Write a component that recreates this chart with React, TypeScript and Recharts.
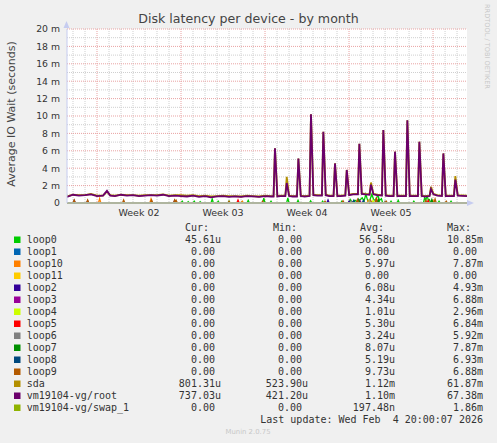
import React from "react";
import { LineChart, Line, XAxis, YAxis, CartesianGrid } from "recharts";

// ---- time axis (days from left edge of graph), values in milliseconds (m) ----
const X_END = 33.33;
const weekTicks = [6, 13, 20, 27];
const weekLabels = ["Week 02", "Week 03", "Week 04", "Week 05"];
const weekStarts = [2.5, 9.5, 16.5, 23.5, 30.5];
const yMajor = [2, 4, 6, 8, 10, 12, 14, 16, 18, 20];
const yMinor = [1, 3, 5, 7, 9, 11, 13, 15, 17, 19];
const yTicks = [0, 2, 4, 6, 8, 10, 12, 14, 16, 18, 20];

// sda / root share sample days
const mainDays = [
  0, 0.5, 1, 1.5, 2, 2.5, 3, 3.33, 3.6, 4, 4.5, 5, 5.5, 6, 6.5, 7, 7.5, 8, 8.5, 9,
  9.5, 10, 10.5, 11, 11.5, 12, 12.5, 13, 13.5, 14, 14.5, 15, 15.5, 16, 16.5, 17,
  17.21, 17.33, 17.53, 17.8,
  18.19, 18.31, 18.51, 18.8,
  19.16, 19.28, 19.48, 19.8,
  20.21, 20.33, 20.53, 20.85,
  21.24, 21.36, 21.56, 21.85,
  22.21, 22.33, 22.53, 22.8,
  23.19, 23.31, 23.51, 23.85,
  24.24, 24.36, 24.56, 24.85,
  25.21, 25.33, 25.53, 25.85,
  26.24, 26.36, 26.56, 26.85,
  27.21, 27.33, 27.53, 27.85,
  28.24, 28.36, 28.56, 28.85,
  29.24, 29.36, 29.56, 29.85,
  30.21, 30.33, 30.53, 30.85,
  31.24, 31.36, 31.56, 31.85,
  32.24, 32.36, 32.56, 33.33,
];
const rootVals = [
  0.7, 0.95, 0.85, 0.9, 1.0, 0.8, 0.85, 1.4, 0.85, 0.8, 0.95, 0.85, 0.9, 0.8, 0.85, 0.9, 0.85, 0.95, 0.8, 0.85,
  0.8, 0.75, 0.85, 0.7, 0.8, 0.65, 0.75, 0.8, 0.7, 0.75, 0.7, 0.8, 0.75, 0.7, 0.8, 0.75,
  0.75, 6.3, 0.75, 0.8,
  0.8, 2.3, 0.8, 0.75,
  0.75, 5.1, 0.8, 0.75,
  0.8, 10.2, 0.9, 0.85,
  0.85, 8.2, 0.9, 0.8,
  0.8, 4.55, 0.8, 0.8,
  0.85, 3.8, 0.9, 1.0,
  1.0, 6.8, 1.05, 1.0,
  0.95, 2.1, 1.0, 0.9,
  0.85, 8.4, 0.85, 0.8,
  0.8, 5.9, 0.8, 0.8,
  0.8, 9.5, 0.8, 0.8,
  0.8, 7.05, 0.8, 0.75,
  0.8, 1.6, 1.0, 0.85,
  0.8, 5.7, 0.8, 0.8,
  0.8, 2.7, 0.85, 0.8,
];
const sdaVals = [
  0.75, 0.95, 0.9, 0.9, 1.05, 0.85, 0.85, 1.3, 0.9, 0.85, 0.95, 0.9, 0.9, 0.85, 0.9, 0.9, 0.9, 1.0, 0.85, 0.9,
  0.9, 0.85, 0.9, 0.8, 0.85, 0.75, 0.8, 0.85, 0.8, 0.8, 0.75, 0.85, 0.8, 0.75, 0.85, 0.8,
  0.8, 6.3, 0.8, 0.85,
  0.85, 3.0, 0.85, 0.8,
  0.8, 5.1, 0.85, 0.8,
  0.85, 10.2, 0.95, 0.9,
  0.9, 8.2, 0.95, 0.85,
  0.85, 4.55, 0.85, 0.85,
  0.9, 3.8, 0.95, 1.05,
  1.05, 6.8, 1.1, 1.05,
  1.0, 2.35, 1.05, 0.95,
  0.9, 8.4, 0.9, 0.85,
  0.85, 5.9, 0.85, 0.85,
  0.85, 9.5, 0.85, 0.85,
  0.85, 7.05, 0.85, 0.8,
  0.85, 1.85, 1.05, 0.9,
  0.85, 5.7, 0.85, 0.85,
  0.85, 3.1, 0.9, 0.85,
];

// loop devices: [day, value] samples
const loop0Pts = [
  [0, 0], [9.5, 0], [9.6, 0.2], [9.7, 0], [10.0, 0], [10.1, 0.15], [10.2, 0], [10.5, 0], [10.6, 0.2], [10.7, 0],
  [11.0, 0], [11.1, 0.15], [11.2, 0], [12.0, 0], [12.1, 0.45], [12.2, 0], [12.5, 0], [12.6, 0.2], [12.7, 0],
  [13.4, 0], [13.5, 0.2], [13.6, 0], [14.5, 0], [14.6, 0.15], [14.7, 0], [15.0, 0], [15.1, 0.3], [15.2, 0],
  [16.3, 0], [16.4, 0.55], [16.5, 0], [16.9, 0], [17.0, 0.2], [17.1, 0], [18.3, 0], [18.4, 0.6], [18.5, 0],
  [19.15, 0], [19.25, 0.3], [19.35, 0], [20.2, 0], [20.3, 0.25], [20.4, 0], [21.2, 0], [21.3, 0.2], [21.4, 0],
  [22.8, 0], [22.9, 0.2], [23.0, 0], [23.5, 0], [23.6, 0.4], [23.75, 0.1], [24.0, 0.3], [24.2, 0.1], [24.6, 0.6],
  [24.75, 0.2], [24.9, 1.0], [25.05, 0.3], [25.2, 0.2], [25.4, 1.0], [25.55, 0.4], [25.7, 0.3], [25.9, 0.9],
  [26.05, 0.3], [26.2, 0.5], [26.3, 0], [26.9, 0], [27.0, 0.2], [27.1, 0], [27.5, 0], [27.6, 0.3], [27.7, 0],
  [28.8, 0], [28.9, 0.2], [29.0, 0], [29.7, 0], [29.8, 0.6], [29.9, 0.3], [30.0, 0.9], [30.1, 0.35], [30.2, 0.4],
  [30.3, 0], [30.9, 0], [31.0, 0.2], [31.1, 0], [31.9, 0], [32.0, 0.2], [32.1, 0], [33.33, 0],
];
const loop1Pts = [[0, 0], [33.33, 0]];
const loop10Pts = [
  [0, 0], [2.62, 0], [2.72, 0.5], [2.82, 0], [6.9, 0], [7.0, 0.45], [7.1, 0], [14.5, 0], [14.6, 0.2], [14.7, 0],
  [25.0, 0], [25.1, 0.3], [25.2, 0], [30.4, 0], [30.5, 0.3], [30.6, 0], [33.33, 0],
];
const loop11Pts = [[0, 0], [33.33, 0]];
const loop2Pts = [
  [0, 0], [0.5, 0], [0.6, 0.3], [0.7, 0], [1.62, 0], [1.72, 0.25], [1.82, 0], [8.87, 0], [8.97, 0.3], [9.07, 0],
  [21.65, 0], [21.75, 0.35], [21.85, 0], [23.4, 0], [23.5, 0.2], [23.6, 0], [33.33, 0],
];
const loop3Pts = [[0, 0], [24.3, 0], [24.4, 0.3], [24.5, 0], [33.33, 0]];
const loop4Pts = [[0, 0], [25.4, 0], [25.5, 0.3], [25.6, 0], [33.33, 0]];
const loop5Pts = [
  [0, 0], [14.15, 0], [14.25, 0.35], [14.35, 0], [25.7, 0], [25.8, 0.45], [25.9, 0], [30.0, 0], [30.1, 0.3],
  [30.2, 0], [33.33, 0],
];
const loop6Pts = [[0, 0], [23.6, 0], [23.7, 0.25], [23.8, 0], [26.4, 0], [26.5, 0.2], [26.6, 0], [33.33, 0]];
const loop7Pts = [
  [0, 0], [24.2, 0], [24.3, 0.4], [24.4, 0], [25.85, 0], [25.95, 0.4], [26.05, 0], [30.3, 0], [30.4, 0.4],
  [30.5, 0], [33.33, 0],
];
const loop8Pts = [[0, 0], [23.8, 0], [23.9, 0.3], [24.0, 0], [24.6, 0], [24.7, 0.3], [24.8, 0], [33.33, 0]];
const loop9Pts = [
  [0, 0], [0.5, 0], [0.6, 0.35], [0.7, 0], [1.62, 0], [1.72, 0.35], [1.82, 0], [4.62, 0], [4.72, 0.35], [4.82, 0],
  [6.95, 0], [7.05, 0.35], [7.15, 0], [8.87, 0], [8.97, 0.35], [9.05, 0.1], [9.1, 0.3], [9.2, 0],
  [13.4, 0], [13.5, 0.2], [13.6, 0], [16.2, 0], [16.3, 0.2], [16.4, 0], [21.4, 0], [21.5, 0.2], [21.6, 0],
  [22.9, 0], [23.0, 0.25], [23.1, 0], [24.1, 0], [24.2, 0.4], [24.3, 0], [25.2, 0], [25.3, 0.3], [25.4, 0],
  [25.65, 0], [25.75, 0.45], [25.85, 0], [26.5, 0], [26.6, 0.2], [26.7, 0], [29.8, 0], [29.9, 0.3], [30.0, 0],
  [30.57, 0], [30.67, 0.45], [30.77, 0], [31.5, 0], [31.6, 0.2], [31.7, 0], [33.33, 0],
];
const swapPts = [[0, 0], [25.1, 0], [25.2, 0.3], [25.3, 0], [33.33, 0]];

// legend
const legendNames = [
  "loop0", "loop1", "loop10", "loop11", "loop2", "loop3", "loop4", "loop5", "loop6", "loop7", "loop8", "loop9",
  "sda", "vm19104-vg/root", "vm19104-vg/swap_1",
];
const legendColors = [
  "#00CC00", "#0066B3", "#FF8000", "#FFCC00", "#330099", "#990099", "#CCFF00", "#FF0000", "#808080", "#008F00",
  "#00487D", "#B35A00", "#B38F00", "#6B006B", "#8FB300",
];
const curVals = ["45.61u", "0.00", "0.00", "0.00", "0.00", "0.00", "0.00", "0.00", "0.00", "0.00", "0.00", "0.00", "801.31u", "737.03u", "0.00"];
const minVals = ["0.00", "0.00", "0.00", "0.00", "0.00", "0.00", "0.00", "0.00", "0.00", "0.00", "0.00", "0.00", "523.90u", "421.20u", "0.00"];
const avgVals = ["56.58u", "0.00", "5.97u", "0.00", "6.08u", "4.34u", "1.01u", "5.30u", "3.24u", "8.07u", "5.19u", "9.73u", "1.12m", "1.10m", "197.48n"];
const maxVals = ["10.85m", "0.00", "7.87m", "0.00", "4.93m", "6.88m", "2.96m", "6.84m", "5.92m", "7.87m", "6.93m", "6.88m", "61.87m", "67.38m", "1.86m"];
const colHeaders = ["Cur:", "Min:", "Avg:", "Max:"];
const lastUpdate = "Last update: Wed Feb  4 20:00:07 2026";

const toRows = (pts: number[][]) => pts.map(([d, v]) => ({ d, v }));
const sdaRows = mainDays.map((d, i) => ({ d, v: sdaVals[i] }));
const rootRows = mainDays.map((d, i) => ({ d, v: rootVals[i] }));

const loopSeries = [
  { name: "loop0", pts: loop0Pts, color: legendColors[0] },
  { name: "loop1", pts: loop1Pts, color: legendColors[1] },
  { name: "loop10", pts: loop10Pts, color: legendColors[2] },
  { name: "loop11", pts: loop11Pts, color: legendColors[3] },
  { name: "loop2", pts: loop2Pts, color: legendColors[4] },
  { name: "loop3", pts: loop3Pts, color: legendColors[5] },
  { name: "loop4", pts: loop4Pts, color: legendColors[6] },
  { name: "loop5", pts: loop5Pts, color: legendColors[7] },
  { name: "loop6", pts: loop6Pts, color: legendColors[8] },
  { name: "loop7", pts: loop7Pts, color: legendColors[9] },
  { name: "loop8", pts: loop8Pts, color: legendColors[10] },
  { name: "loop9", pts: loop9Pts, color: legendColors[11] },
];

const minorDays: number[] = [];
for (let k = 0; k < 33; k++) {
  const d = 0.5 + k;
  if (!weekStarts.includes(d)) minorDays.push(d);
}

const SANS = "'DejaVu Sans', sans-serif";
const MONO = "'DejaVu Sans Mono', monospace";

export default function App() {
  const charW = 6.02;
  const colEnds = [221, 308, 395, 483];
  const colStarts = [185, 273, 360, 447];
  const cols = [curVals, minVals, avgVals, maxVals];
  const rowY0 = 243;
  const rowH = 12;
  const hasUnit = (s: string) => /[a-zA-Z]$/.test(s);

  return (
    <div style={{ position: "absolute", left: 0, top: 0, width: 497, height: 443, background: "#F0F0F0", overflow: "hidden" }}>
      <LineChart width={497} height={443} margin={{ top: 29, right: 30, left: 7, bottom: 220 }}>
        <CartesianGrid fill="#FFFFFF" stroke="#CFCFCF" strokeDasharray="1 1" horizontalValues={yMinor} verticalValues={minorDays} />
        <CartesianGrid stroke="#E9A3A3" strokeDasharray="1 1" horizontalValues={yMajor} verticalValues={weekStarts} />
        <XAxis
          type="number"
          dataKey="d"
          domain={[0, X_END]}
          allowDataOverflow
          ticks={weekTicks}
          interval={0}
          tickFormatter={(v: number) => weekLabels[weekTicks.indexOf(v)]}
          axisLine={{ stroke: "#C6CCF0" }}
          tickLine={false}
          tickSize={4}
          tickMargin={2.5}
          height={20}
          tick={{ fill: "#333", fontSize: 9.5, fontFamily: SANS }}
        />
        <YAxis
          type="number"
          domain={[0, 20]}
          ticks={yTicks}
          interval={0}
          tickFormatter={(v: number) => (v === 0 ? "0" : `${v} m`)}
          axisLine={{ stroke: "#C6CCF0" }}
          tickLine={false}
          tickSize={5}
          tickMargin={2}
          width={60}
          tick={{ fill: "#333", fontSize: 9.3, fontFamily: SANS }}
        />
        {loopSeries.map((s) => (
          <Line
            key={s.name}
            data={toRows(s.pts)}
            dataKey="v"
            type="linear"
            stroke={s.color}
            strokeWidth={1.3}
            dot={false}
            activeDot={false}
            isAnimationActive={false}
          />
        ))}
        <Line data={sdaRows} dataKey="v" type="linear" stroke="#B38F00" strokeWidth={1.8} dot={false} activeDot={false} isAnimationActive={false} />
        <Line data={rootRows} dataKey="v" type="linear" stroke="#6B006B" strokeWidth={1.8} dot={false} activeDot={false} isAnimationActive={false} />
        <Line data={toRows(swapPts)} dataKey="v" type="linear" stroke="#9DB560" strokeWidth={1.3} dot={false} activeDot={false} isAnimationActive={false} />
      </LineChart>
      <svg width={497} height={443} style={{ position: "absolute", left: 0, top: 0, pointerEvents: "none" }}>
        <text x={248.5} y={22.5} textAnchor="middle" fontFamily={SANS} fontSize={12.6} fill="#444">
          Disk latency per device - by month
        </text>
        <text
          x={0}
          y={0}
          transform="translate(14.5,114) rotate(-90)"
          textAnchor="middle"
          fontFamily={SANS}
          fontSize={11}
          fill="#444"
        >
          Average IO Wait (seconds)
        </text>
        <text x={0} y={0} transform="translate(485,4) rotate(90)" fontFamily={SANS} fontSize={6.6} fill="#C8C8C8">
          RRDTOOL / TOBI OETIKER
        </text>
        <polygon points="63.5,28 66.5,21 69.5,28" fill="#C6CCF0" />
        <polygon points="467,200 474,203 467,206" fill="#C6CCF0" />
        {colHeaders.map((h, i) => (
          <text key={h} x={colStarts[i]} y={231} fontFamily={MONO} fontSize={10} fill="#333">
            {h}
          </text>
        ))}
        {legendNames.map((n, r) => {
          const y = rowY0 + r * rowH;
          return (
            <g key={n}>
              <rect x={14} y={y - 6.5} width={6.5} height={6.5} fill={legendColors[r]} />
              <text x={26.7} y={y} fontFamily={MONO} fontSize={10} fill="#333">
                {n}
              </text>
              {cols.map((col, c) => (
                <text
                  key={c}
                  x={colEnds[c] - (hasUnit(col[r]) ? 0 : charW)}
                  y={y}
                  textAnchor="end"
                  fontFamily={MONO}
                  fontSize={10}
                  fill="#333"
                >
                  {col[r]}
                </text>
              ))}
            </g>
          );
        })}
        <text x={483} y={423} textAnchor="end" fontFamily={MONO} fontSize={10} fill="#333" style={{ whiteSpace: "pre" }}>
          {lastUpdate}
        </text>
        <text x={248} y={434} textAnchor="middle" fontFamily={SANS} fontSize={6.9} fill="#C8C8C8">
          Munin 2.0.75
        </text>
      </svg>
    </div>
  );
}
